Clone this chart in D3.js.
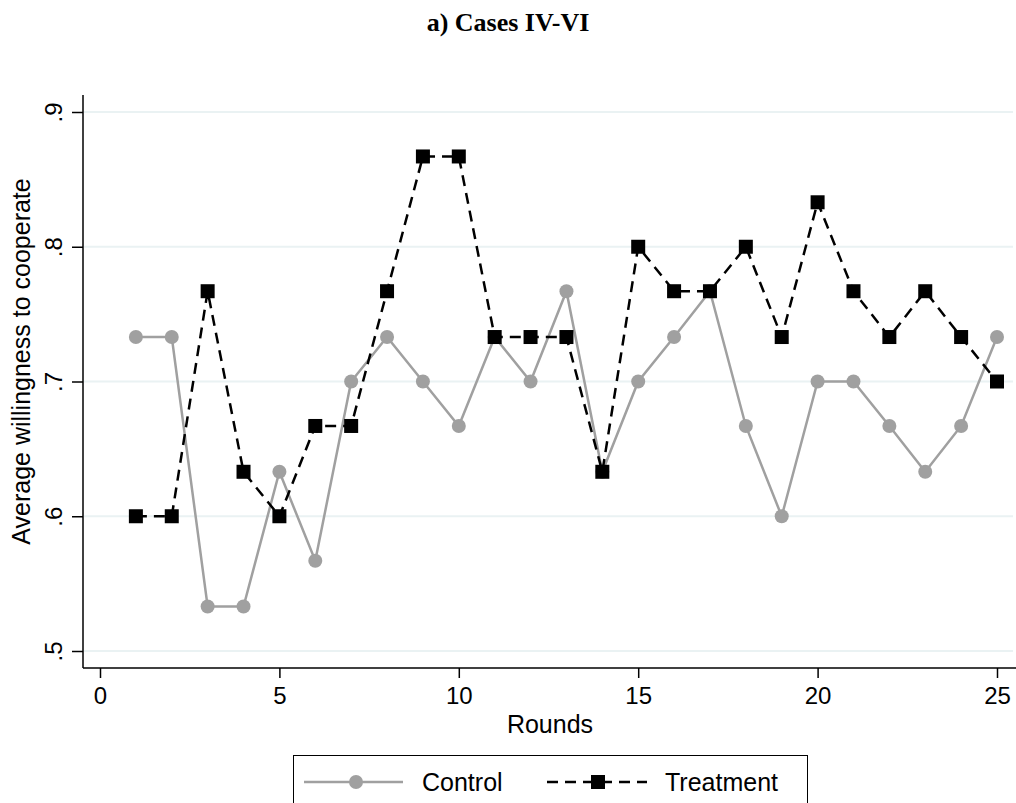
<!DOCTYPE html>
<html>
<head>
<meta charset="utf-8">
<script src="https://cdn.jsdelivr.net/npm/d3@7"></script>
<style>
  body { margin: 0; background: #fff; }
  svg { display: block; font-family: 'Liberation Sans', Arial, sans-serif; }
</style>
</head>
<body>
<div id="chart"></div>
<script>
const rounds = d3.range(1, 26)
const control = [.733, .733, .533, .533, .633, .567, .7, .733, .7, .667, .733, .7, .767,
  .633, .7, .733, .767, .667, .6, .7, .7, .667, .633, .667, .733]
const treatment = [.6, .6, .767, .633, .6, .667, .667, .767, .867, .867, .733, .733, .733,
  .633, .8, .767, .767, .8, .733, .833, .767, .733, .767, .733, .7]
const xTicks = [0, 5, 10, 15, 20, 25]
const yTicks = [.5, .6, .7, .8, .9]

const width = 1016
const height = 803
const gray = '#a0a0a0'

const svg = d3.select('#chart').append('svg')
  .attr('width', width)
  .attr('height', height)

const x = d3.scaleLinear().domain([0, 25]).range([100, 997])
const y = d3.scaleLinear().domain([.5, .9]).range([651, 112])

// title
svg.append('text')
  .attr('x', 508)
  .attr('y', 31)
  .attr('text-anchor', 'middle')
  .attr('font-family', "'Liberation Serif', 'Times New Roman', serif")
  .attr('font-weight', 'bold')
  .attr('font-size', '26px')
  .text('a) Cases IV-VI')

// grid
svg.append('g')
  .selectAll('line')
  .data(yTicks)
  .join('line')
  .attr('x1', 84)
  .attr('x2', 1013)
  .attr('y1', d => y(d))
  .attr('y2', d => y(d))
  .attr('stroke', '#eaf2f3')
  .attr('stroke-width', 2)

// x axis
const xAxis = svg.append('g')
  .attr('transform', 'translate(0,668)')
  .call(d3.axisBottom(x).tickValues(xTicks).tickSize(10).tickPadding(9).tickSizeOuter(0))
xAxis.select('.domain').remove()
xAxis.append('line')
  .attr('x1', 83).attr('x2', 1016)
  .attr('stroke', '#000').attr('stroke-width', 1.5)
xAxis.selectAll('.tick line').attr('stroke-width', 1.5)
xAxis.selectAll('.tick text')
  .attr('font-size', '24px')
  .attr('font-family', "'Liberation Sans', Arial, sans-serif")
  .attr('fill', '#000')

svg.append('text')
  .attr('x', 550)
  .attr('y', 733)
  .attr('text-anchor', 'middle')
  .attr('font-size', '25px')
  .text('Rounds')

// y axis
const yAxis = svg.append('g')
  .attr('transform', 'translate(83,0)')
  .call(d3.axisLeft(y).tickValues(yTicks).tickSize(11).tickFormat(d => d3.format('.1f')(d).replace(/^0/, '')).tickSizeOuter(0))
yAxis.select('.domain').remove()
yAxis.append('line')
  .attr('y1', 95).attr('y2', 668)
  .attr('stroke', '#000').attr('stroke-width', 1.5)
yAxis.selectAll('.tick line').attr('stroke-width', 1.5)
yAxis.selectAll('.tick text')
  .attr('font-size', '24px')
  .attr('font-family', "'Liberation Sans', Arial, sans-serif")
  .attr('fill', '#000')
  .attr('text-anchor', 'middle')
  .attr('dy', 0)
  .attr('x', 0)
  .attr('transform', 'translate(-21,0) rotate(-90)')

svg.append('text')
  .attr('transform', `translate(30,${(y(.5) + y(.9)) / 2 - 20}) rotate(-90)`)
  .attr('text-anchor', 'middle')
  .attr('font-size', '25px')
  .text('Average willingness to cooperate')

// series
const line = d3.line().x((d, i) => x(rounds[i])).y(d => y(d))

svg.append('path')
  .datum(control)
  .attr('d', line)
  .attr('fill', 'none')
  .attr('stroke', gray)
  .attr('stroke-width', 2.5)

svg.append('g')
  .selectAll('circle')
  .data(control)
  .join('circle')
  .attr('cx', (d, i) => x(rounds[i]))
  .attr('cy', d => y(d))
  .attr('r', 7)
  .attr('fill', gray)

svg.append('path')
  .datum(treatment)
  .attr('d', line)
  .attr('fill', 'none')
  .attr('stroke', '#000')
  .attr('stroke-width', 2.5)
  .attr('stroke-dasharray', '11,7')

const sq = 14
svg.append('g')
  .selectAll('rect')
  .data(treatment)
  .join('rect')
  .attr('x', (d, i) => x(rounds[i]) - sq / 2)
  .attr('y', d => y(d) - sq / 2)
  .attr('width', sq)
  .attr('height', sq)
  .attr('fill', '#000')

// legend
const legend = svg.append('g')
legend.append('rect')
  .attr('x', 293.5)
  .attr('y', 755.5)
  .attr('width', 514)
  .attr('height', 60)
  .attr('fill', '#fff')
  .attr('stroke', '#000')
  .attr('stroke-width', 1)

const ly = 782
legend.append('line')
  .attr('x1', 304).attr('x2', 403).attr('y1', ly).attr('y2', ly)
  .attr('stroke', gray).attr('stroke-width', 2.5)
legend.append('circle')
  .attr('cx', 356).attr('cy', ly).attr('r', 7).attr('fill', gray)
legend.append('text')
  .attr('x', 422).attr('y', ly).attr('dy', '0.35em')
  .attr('font-size', '25px')
  .text('Control')

legend.append('line')
  .attr('x1', 547).attr('x2', 647).attr('y1', ly).attr('y2', ly)
  .attr('stroke', '#000').attr('stroke-width', 2.5)
  .attr('stroke-dasharray', '11,7')
legend.append('rect')
  .attr('x', 598 - sq / 2).attr('y', ly - sq / 2)
  .attr('width', sq).attr('height', sq).attr('fill', '#000')
legend.append('text')
  .attr('x', 665).attr('y', ly).attr('dy', '0.35em')
  .attr('font-size', '25px')
  .text('Treatment')
</script>
</body>
</html>
